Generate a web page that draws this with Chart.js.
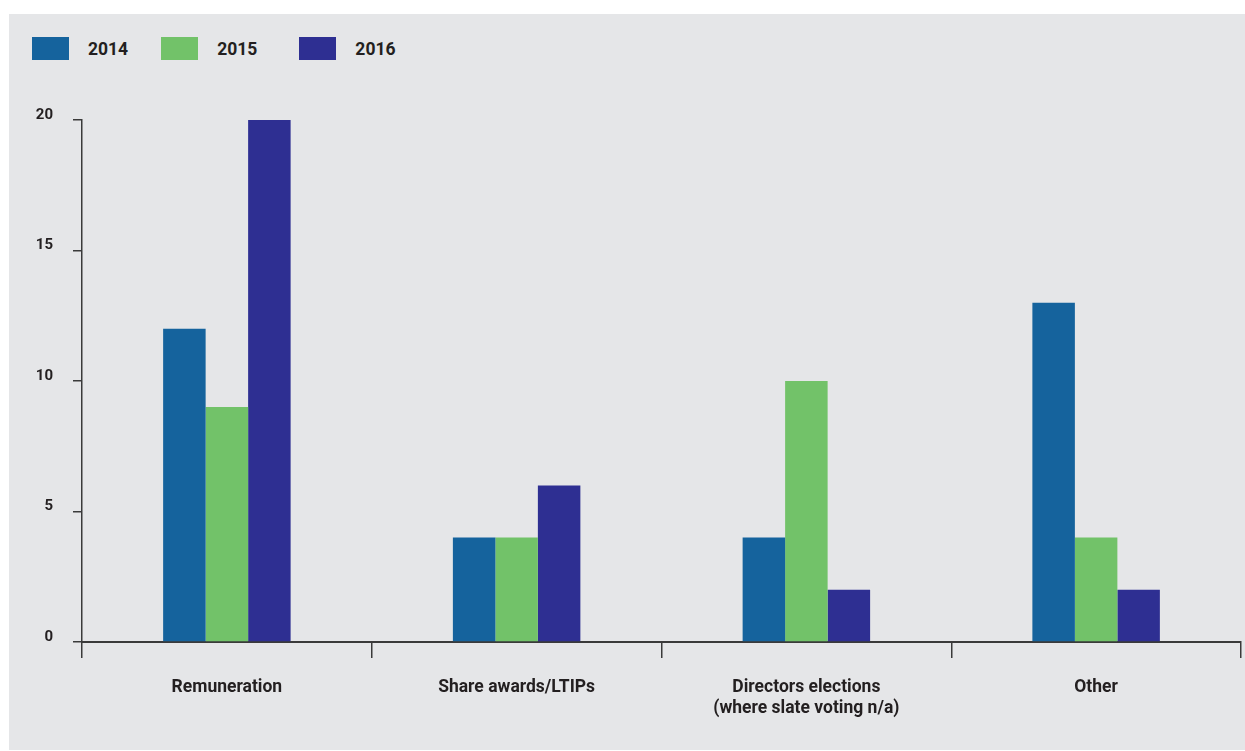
<!DOCTYPE html>
<html>
<head>
<meta charset="utf-8">
<script src="https://cdn.jsdelivr.net/npm/chart.js@4/dist/chart.umd.min.js"></script>
<style>
  html, body { margin: 0; padding: 0; background: #ffffff; }
  #panel { position: absolute; left: 9px; top: 14px; width: 1236px; height: 736px; background: #e5e6e8; }
  #wrap { position: absolute; left: 0; top: 0; width: 1245px; height: 751px; }
  #legend { position: absolute; left: 32px; top: 37px; display: flex; align-items: center;
            font-family: Roboto, "Liberation Sans", sans-serif; font-weight: bold; font-size: 17.5px; color: #231f20; }
  .item { display: flex; align-items: center; }
  .box { width: 37px; height: 23px; margin-right: 19px; }
</style>
</head>
<body>
<div id="panel"></div>
<div id="legend"></div>
<div id="wrap"><canvas id="c" width="1245" height="751"></canvas></div>
<script>
const categories = ["Remuneration", "Share awards/LTIPs", ["Directors elections", "(where slate voting n/a)"], "Other"];
const seriesNames = ["2014", "2015", "2016"];
const values2014 = [12, 4, 4, 13];
const values2015 = [9, 4, 10, 4];
const values2016 = [20, 6, 2, 2];
const yTicks = [0, 5, 10, 15, 20];
const colors = ["#15639d", "#72c269", "#2e2f92"];

const seriesValues = [values2014, values2015, values2016];
const itemGaps = [33, 42, 0];

// legend
const legend = document.getElementById('legend');
seriesNames.forEach((name, i) => {
  const it = document.createElement('div');
  it.className = 'item';
  it.style.marginRight = itemGaps[i] + 'px';
  const b = document.createElement('div');
  b.className = 'box';
  b.style.background = colors[i];
  const t = document.createElement('span');
  t.textContent = name;
  it.appendChild(b); it.appendChild(t);
  legend.appendChild(it);
});

const fontFam = 'Roboto, "Liberation Sans", sans-serif';
const axisColor = '#3a3a3a';
const textColor = '#231f20';

new Chart(document.getElementById('c'), {
  type: 'bar',
  data: {
    labels: categories,
    datasets: seriesNames.map((n, i) => ({
      label: n,
      data: seriesValues[i],
      backgroundColor: colors[i],
      borderWidth: 0,
      categoryPercentage: 0.44,
      barPercentage: 1.0
    }))
  },
  options: {
    responsive: false,
    animation: false,
    layout: { padding: { left: 0, right: 4, top: 120, bottom: 0 } },
    plugins: { legend: { display: false }, tooltip: { enabled: false } },
    scales: {
      x: {
        offset: true,
        grid: { offset: true, drawOnChartArea: false, drawTicks: true, tickLength: 16, color: axisColor, lineWidth: 1.5 },
        border: { display: true, color: axisColor, width: 2 },
        ticks: { color: textColor, padding: 19, maxRotation: 0, autoSkip: false,
                 font: { family: fontFam, size: 17.5, weight: 'bold', lineHeight: 1.2 } },
        afterFit: (s) => { s.height = 109; }
      },
      y: {
        min: 0, max: 20,
        afterBuildTicks: (s) => { s.ticks = yTicks.map(v => ({ value: v })); },
        grid: { drawOnChartArea: false, drawTicks: true, tickLength: 9, color: axisColor, lineWidth: 1.5 },
        border: { display: true, color: axisColor, width: 1.5 },
        ticks: { color: textColor, padding: 20, labelOffset: -5,
                 font: { family: fontFam, size: 15, weight: 'bold' } },
        afterFit: (s) => { s.width = 82; }
      }
    }
  }
});
</script>
</body>
</html>
